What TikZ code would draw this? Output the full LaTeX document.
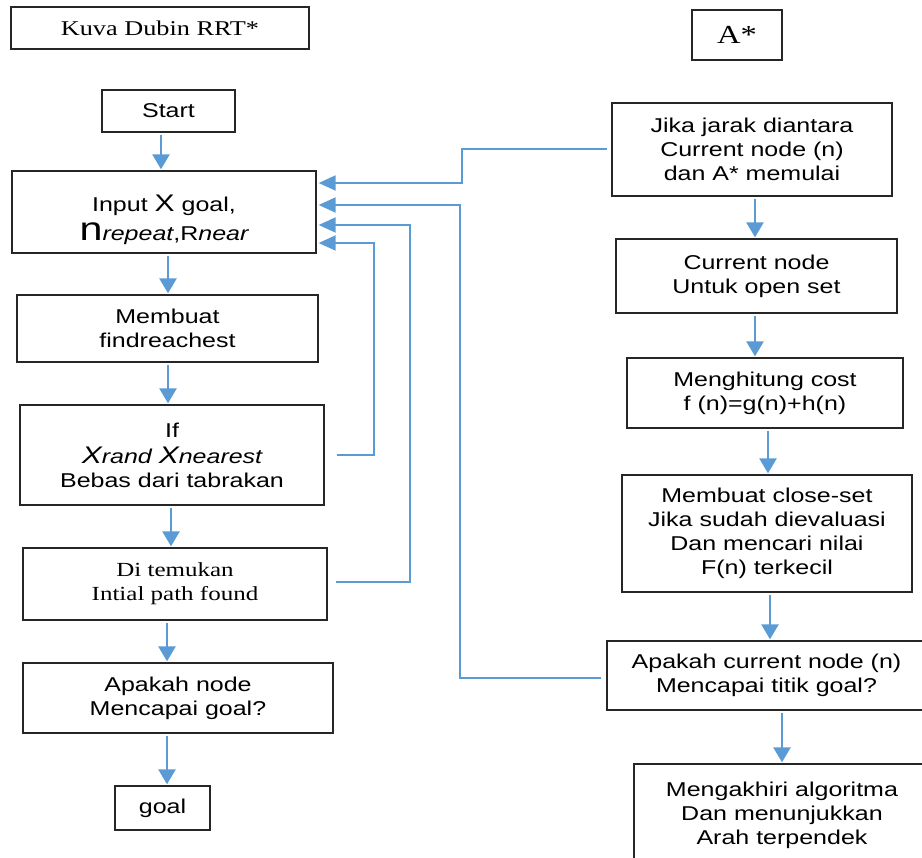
\documentclass[tikz,border=0pt]{standalone}
\usepackage{fontspec}
\newfontfamily\arialf{Liberation Sans}[FakeStretch=1.25]
\newfontfamily\timesf{Liberation Serif}[FakeStretch=1.25]
\usetikzlibrary{arrows.meta}
\definecolor{arrblue}{HTML}{5B9BD5}
\tikzset{
  box/.style={draw=black!85, line width=1.3pt, inner sep=0pt, align=center,
    font=\arialf\fontsize{20}{24}\selectfont},
  serifbox/.style={box, font=\timesf\fontsize{20}{24}\selectfont},
  arr/.style={draw=arrblue, line width=2.5pt, shorten <=2pt, shorten >=1pt,
    -{Triangle[width=17pt,length=15pt]}},
  fbarr/.style={draw=arrblue, line width=2pt, shorten >=2pt,
    -{Triangle[width=15pt,length=17pt]}},
}
\begin{document}
\begin{tikzpicture}[x=1pt,y=-1pt]
\useasboundingbox (0,0) rectangle (922,858);
% left column
\node[serifbox, minimum width=298pt, minimum height=42pt, font=\timesf\fontsize{21}{24}\selectfont] (title) at (160,28) {Kuva Dubin RRT*};
\node[box, minimum width=133pt, minimum height=42pt] (start) at (168.5,111) {Start};
\node[box, minimum width=304pt, minimum height=82pt] (input) at (164,212)
  {\rule{0pt}{32pt}Input {\fontsize{24}{24}\selectfont X} goal,\\[5pt]{\fontsize{33}{33}\selectfont n}{\itshape repeat},R{\itshape near}};
\node[box, minimum width=301pt, minimum height=67pt] (membuat) at (167.5,328.5) {Membuat\\findreachest};
\node[box, minimum width=304pt, minimum height=100pt] (ifb) at (172,455)
  {If\\[2pt]{\itshape\fontsize{24}{24}\selectfont X}{\itshape rand} {\itshape\fontsize{24}{24}\selectfont X}{\itshape nearest}\\Bebas dari tabrakan};
\node[serifbox, minimum width=304pt, minimum height=72pt] (ditem) at (175,584) {Di temukan\\Intial path found};
\node[box, minimum width=310pt, minimum height=70pt] (apakah) at (178,698) {Apakah node\\Mencapai goal?};
\node[box, minimum width=95pt, minimum height=44pt] (goal) at (162.5,808) {goal};
% right column
\node[serifbox, minimum width=90pt, minimum height=50pt, font=\timesf\fontsize{26}{26}\selectfont] (astar) at (737,35) {A*};
\node[box, minimum width=280pt, minimum height=93pt] (jika) at (752,149.5) {Jika jarak diantara\\Current node (n)\\dan A* memulai};
\node[box, minimum width=281pt, minimum height=74pt] (current) at (756.5,276) {Current node\\Untuk open set};
\node[box, minimum width=276pt, minimum height=70pt] (hitung) at (765,393) {Menghitung cost\\f (n)=g(n)+h(n)};
\node[box, minimum width=290pt, minimum height=117pt] (close) at (767,533.5) {Membuat close-set\\Jika sudah dievaluasi\\Dan mencari nilai\\F(n) terkecil};
\node[box, minimum width=319pt, minimum height=69pt] (apakahc) at (766.5,675.5) {Apakah current node (n)\\Mencapai titik goal?};
\node[box, minimum width=296pt, minimum height=102pt] (akhir) at (782,815) {Mengakhiri algoritma\\Dan menunjukkan\\Arah terpendek};
% column x positions for vertical arrows
\coordinate (a1) at (161,0);
\coordinate (a2) at (168,0);
\coordinate (a3) at (168,0);
\coordinate (a4) at (171,0);
\coordinate (a5) at (167,0);
\coordinate (a6) at (167,0);
\coordinate (b1) at (755,0);
\coordinate (b2) at (755,0);
\coordinate (b3) at (768,0);
\coordinate (b4) at (770,0);
\coordinate (b5) at (782,0);
\draw[arr] (start.south -| a1) -- (input.north -| a1);
\draw[arr] (input.south -| a2) -- (membuat.north -| a2);
\draw[arr] (membuat.south -| a3) -- (ifb.north -| a3);
\draw[arr] (ifb.south -| a4) -- (ditem.north -| a4);
\draw[arr] (ditem.south -| a5) -- (apakah.north -| a5);
\draw[arr] (apakah.south -| a6) -- (goal.north -| a6);
\draw[arr] (jika.south -| b1) -- (current.north -| b1);
\draw[arr] (current.south -| b2) -- (hitung.north -| b2);
\draw[arr] (hitung.south -| b3) -- (close.north -| b3);
\draw[arr] (close.south -| b4) -- (apakahc.north -| b4);
\draw[arr] (apakahc.south -| b5) -- (akhir.north -| b5);
% feedback connectors
\coordinate (k1) at (462,183);
\coordinate (k2) at (460,205);
\coordinate (k3) at (410,225);
\coordinate (k4) at (374,243);
\draw[fbarr] ([xshift=-4pt]jika.west) -| (k1) -- (input.east |- k1);
\draw[fbarr] ([xshift=-5pt,yshift=-2.5pt]apakahc.west) -| (k2) -- (input.east |- k2);
\draw[fbarr] ([xshift=8pt,yshift=2pt]ditem.east) -| (k3) -- (input.east |- k3);
\draw[fbarr] ([xshift=12pt]ifb.east) -| (k4) -- (input.east |- k4);
\end{tikzpicture}
\end{document}
